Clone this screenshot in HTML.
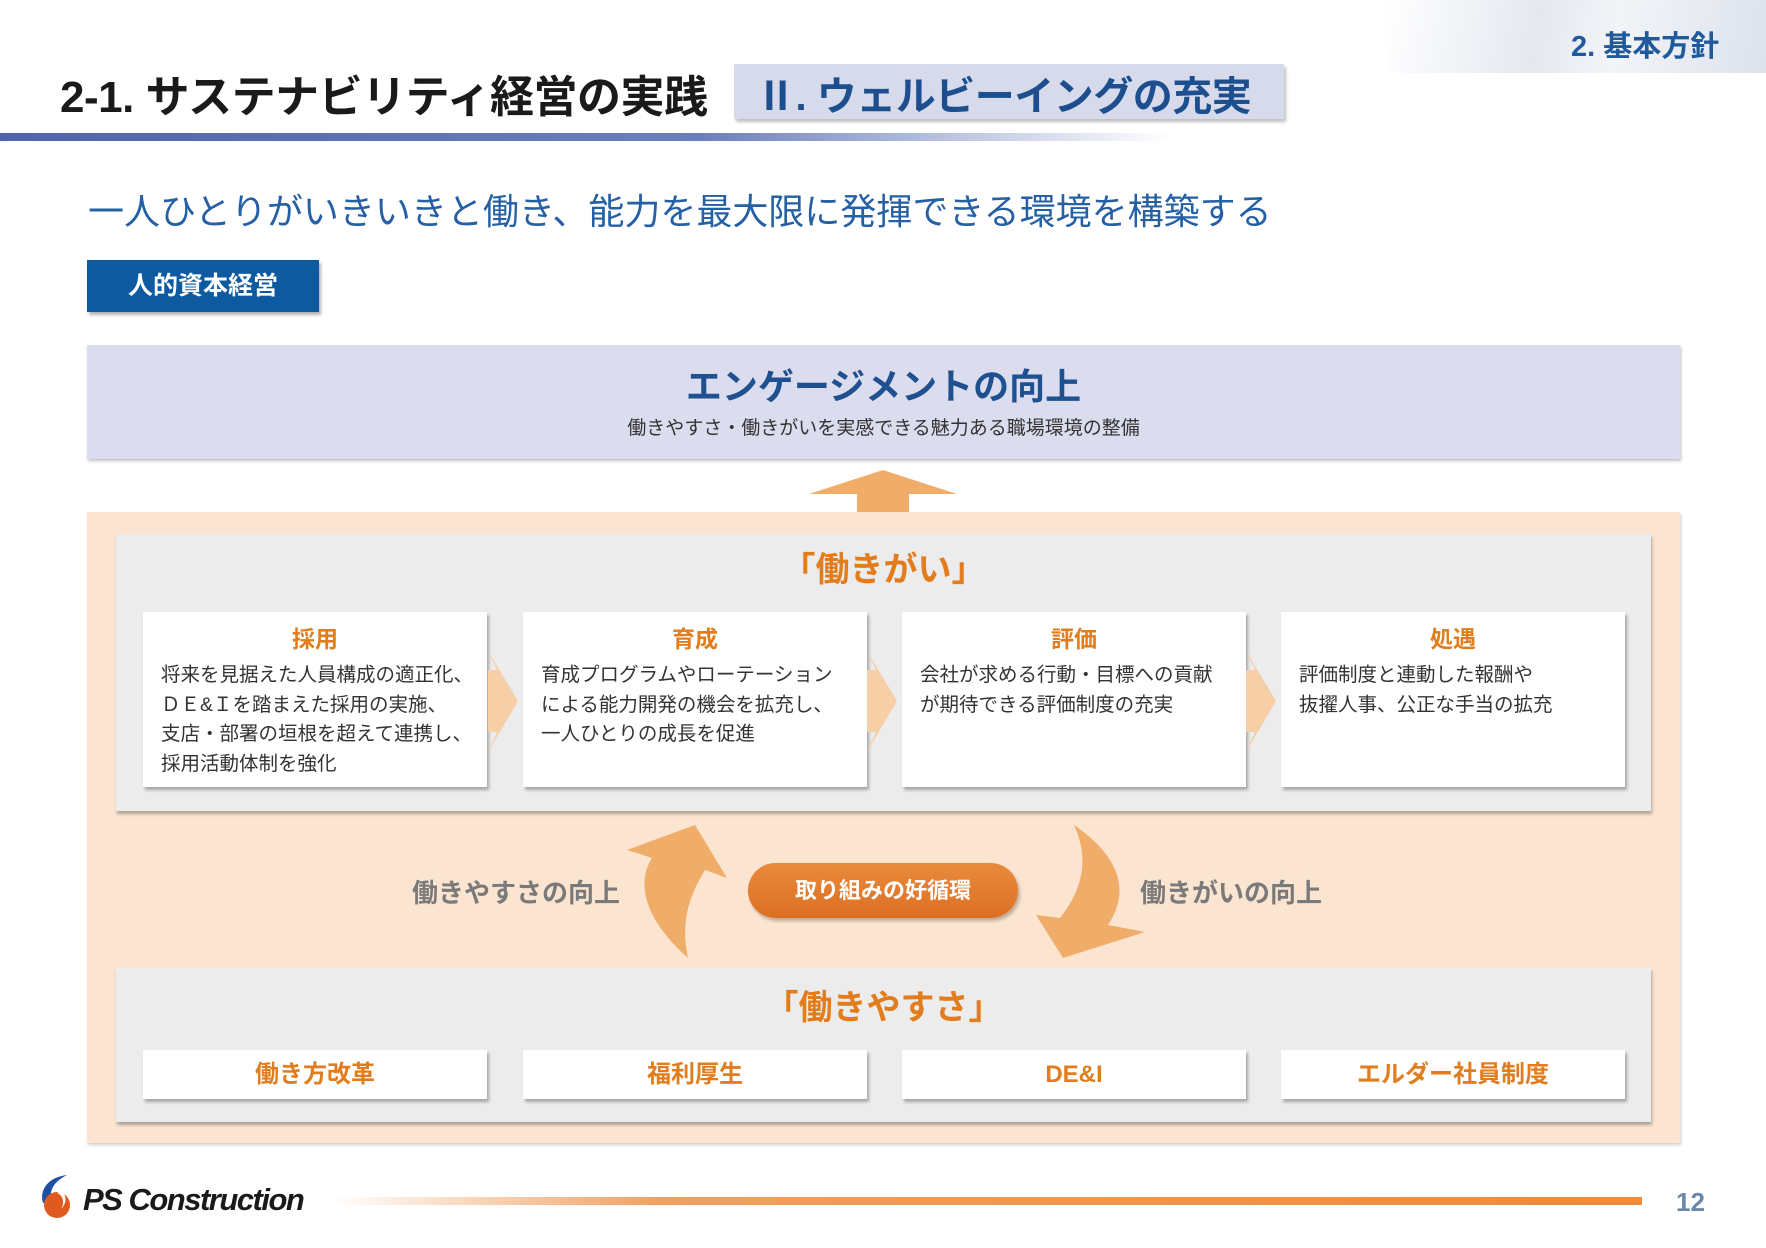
<!DOCTYPE html>
<html><head><meta charset="utf-8"><style>
*{margin:0;padding:0;box-sizing:border-box}
body{width:1766px;height:1248px;background:#fff;position:relative;overflow:hidden;font-family:"Liberation Sans","Noto Sans CJK JP",sans-serif}
.a{position:absolute}
.c{text-align:center}
.card{position:absolute;background:#fff;box-shadow:2px 3px 3px rgba(0,0,0,.3)}
.ct{position:absolute;left:0;right:0;text-align:center;color:#e27d1e;font-weight:bold;font-size:23px}
.cx{position:absolute;left:18px;right:6px;font-size:19.5px;line-height:29.5px;color:#333;white-space:nowrap}
.sc{position:absolute;top:1050px;height:49px;width:344px;background:#fff;box-shadow:2px 3px 3px rgba(0,0,0,.3);color:#e27d1e;font-weight:bold;font-size:24px;text-align:center;line-height:49px}
</style></head><body>
<div class="a" style="left:1385px;top:0;width:381px;height:73px;background:linear-gradient(100deg,#fff 0%,#e4e8f0 40%,#f2f4f8 60%,#dde2ec 100%)"></div>
<div class="a" style="left:1571px;top:23px;font-size:29px;font-weight:bold;color:#1f5a9c">2. 基本方針</div>
<div class="a" style="left:60px;top:61px;font-size:44px;font-weight:bold;color:#1a1a1a;letter-spacing:-0.5px">2-1. サステナビリティ経営の実践</div>
<div class="a" style="left:734px;top:64px;width:550px;height:55px;background:#d6daeb;box-shadow:2px 3px 3px rgba(0,0,0,.25)"></div>
<div class="a" style="left:756px;top:64px;font-size:40px;font-weight:bold;color:#1d4f8e;letter-spacing:-0.5px">Ⅱ. ウェルビーイングの充実</div>
<div class="a" style="left:0;top:133px;width:1170px;height:8px;background:linear-gradient(90deg,#4d64ad 0%,#6c7fbd 60%,rgba(200,206,230,0) 100%)"></div>
<div class="a" style="left:88px;top:183px;font-size:36px;color:#2560a5">一人ひとりがいきいきと働き、能力を最大限に発揮できる環境を構築する</div>
<div class="a c" style="left:87px;top:260px;width:232px;height:52px;background:#0e5aa1;color:#fff;font-weight:bold;font-size:25px;line-height:52px;box-shadow:2px 3px 3px rgba(0,0,0,.3)">人的資本経営</div>
<div class="a" style="left:87px;top:345px;width:1593px;height:114px;background:#dcdcef;box-shadow:1px 2px 3px rgba(0,0,0,.25)"></div>
<div class="a c" style="left:87px;top:358px;width:1593px;font-size:36px;font-weight:bold;color:#1f5090">エンゲージメントの向上</div>
<div class="a c" style="left:87px;top:413px;width:1593px;font-size:19px;color:#333">働きやすさ・働きがいを実感できる魅力ある職場環境の整備</div>
<svg class="a" style="left:805px;top:468px" width="160" height="44"><polygon points="4,26 78,2 152,26 104,26 104,44 52,44 52,26" fill="#f0ad6a"/></svg>
<div class="a" style="left:87px;top:512px;width:1593px;height:631px;background:#fbe5d1;box-shadow:1px 2px 3px rgba(0,0,0,.2)"></div>
<div class="a" style="left:116px;top:534px;width:1535px;height:277px;background:#ececec;box-shadow:1px 3px 3px rgba(0,0,0,.3)"></div>
<div class="a c" style="left:116px;top:542px;width:1535px;font-size:34px;font-weight:bold;color:#e27d1e">「働きがい」</div>
<div class="card" style="left:143px;top:612px;width:344px;height:175px"><div class="ct" style="top:8px">採用</div><div class="cx" style="top:49px">将来を見据えた人員構成の適正化、<br>ＤＥ&amp;Ｉを踏まえた採用の実施、<br>支店・部署の垣根を超えて連携し、<br>採用活動体制を強化</div></div>
<div class="card" style="left:523px;top:612px;width:344px;height:175px"><div class="ct" style="top:8px">育成</div><div class="cx" style="top:49px">育成プログラムやローテーション<br>による能力開発の機会を拡充し、<br>一人ひとりの成長を促進</div></div>
<div class="card" style="left:902px;top:612px;width:344px;height:175px"><div class="ct" style="top:8px">評価</div><div class="cx" style="top:49px">会社が求める行動・目標への貢献<br>が期待できる評価制度の充実</div></div>
<div class="card" style="left:1281px;top:612px;width:344px;height:175px"><div class="ct" style="top:8px">処遇</div><div class="cx" style="top:49px">評価制度と連動した報酬や<br>抜擢人事、公正な手当の拡充</div></div>
<svg class="a" style="left:0;top:0" width="1766" height="1248">
<g fill="#f7cfa6"><polygon points="488,670 497,670 488,651 518,701 488,752 497,732 488,732"/>
<polygon points="867,670 876,670 867,651 897,701 867,752 876,732 867,732"/>
<polygon points="1246,670 1255,670 1246,651 1276,701 1246,752 1255,732 1246,732"/></g>
<path d="M688,958 C640,915 638,880 652,858 L627,850 L695,825 L727,878 L705,870 C690,895 680,920 688,958 Z" fill="#f0ad6a"/>
<path d="M1074,825 C1125,860 1128,895 1108,925 L1145,932 L1063,958 L1036,915 L1060,918 C1082,890 1090,860 1074,825 Z" fill="#f0ad6a"/>
</svg>
<div class="a" style="left:412px;top:873px;font-size:26px;font-weight:bold;color:#7a7a7a">働きやすさの向上</div>
<div class="a" style="left:1140px;top:873px;font-size:26px;font-weight:bold;color:#7a7a7a">働きがいの向上</div>
<div class="a c" style="left:748px;top:863px;width:270px;height:55px;border-radius:28px;background:linear-gradient(#ea8a3c,#dc6f22);color:#fff;font-weight:bold;font-size:22px;line-height:55px;box-shadow:2px 3px 3px rgba(0,0,0,.25)">取り組みの好循環</div>
<div class="a" style="left:116px;top:968px;width:1535px;height:154px;background:#ececec;box-shadow:1px 3px 3px rgba(0,0,0,.3)"></div>
<div class="a c" style="left:116px;top:980px;width:1535px;font-size:34px;font-weight:bold;color:#e27d1e">「働きやすさ」</div>
<div class="sc" style="left:143px">働き方改革</div>
<div class="sc" style="left:523px">福利厚生</div>
<div class="sc" style="left:902px">DE&amp;I</div>
<div class="sc" style="left:1281px">エルダー社員制度</div>
<svg class="a" style="left:35px;top:1173px" width="48" height="48"><path d="M8,30 C4,16 14,4 32,2 C20,8 14,16 16,28 Z" fill="#1f4fa0"/><circle cx="22" cy="32" r="13" fill="#e05a20"/><path d="M22,20 C28,22 30,30 26,36 C32,30 32,22 26,18 Z" fill="#fff"/></svg>
<div class="a" style="left:83px;top:1182px;font-size:31px;font-weight:bold;font-style:italic;color:#1a1a1a;letter-spacing:-1.5px">PS Construction</div>
<div class="a" style="left:332px;top:1197px;width:1310px;height:8px;background:linear-gradient(90deg,rgba(240,150,80,0) 0%,#f0a060 25%,#ee8a3a 100%)"></div>
<div class="a" style="left:1676px;top:1187px;font-size:26px;font-weight:bold;color:#6a88aa">12</div>
</body></html>
